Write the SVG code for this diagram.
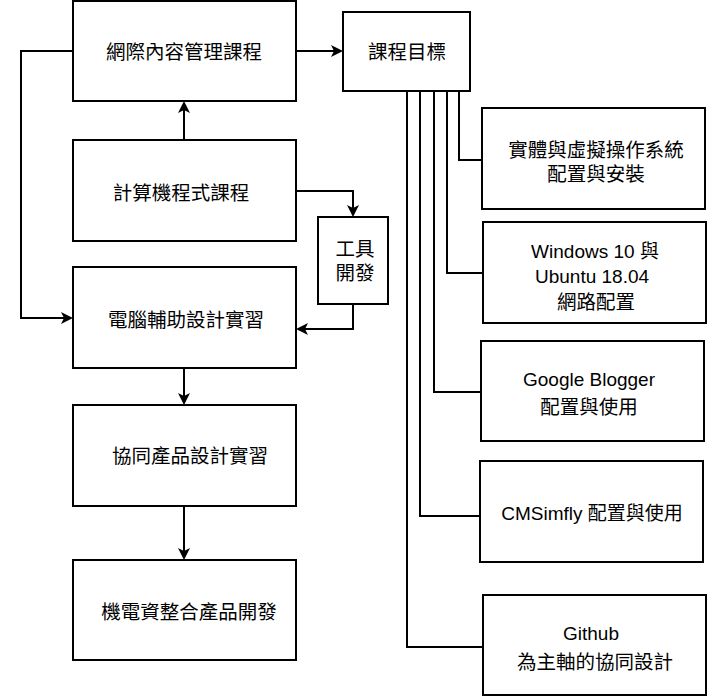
<svg xmlns="http://www.w3.org/2000/svg" width="724" height="698" viewBox="0 0 724 698">
<style>
.box{fill:#fff;stroke:#000;stroke-width:2}
.ln{fill:none;stroke:#000;stroke-width:2}
.t{font-family:"Liberation Sans","Noto Sans CJK TC",sans-serif;font-size:19px;fill:#000;text-anchor:middle;dominant-baseline:central}
.c{font-size:19.5px}
</style>
<defs>
<marker id="arr" viewBox="0 0 12 12" refX="3" refY="6" markerWidth="12" markerHeight="12" markerUnits="userSpaceOnUse" orient="auto">
<path d="M0,0 L12,6 L0,12 L3,6 z" fill="#000"/>
</marker>
</defs>
<rect width="724" height="698" fill="#fff"/>
<g id="connectors">
<path class="ln" d="M296,51 H334" marker-end="url(#arr)"/>
<path class="ln" d="M184,140 V110" marker-end="url(#arr)"/>
<path class="ln" d="M296,191 H353 V208" marker-end="url(#arr)"/>
<path class="ln" d="M353,304 V329 H305" marker-end="url(#arr)"/>
<path class="ln" d="M73,51 H21 V318 H64" marker-end="url(#arr)"/>
<path class="ln" d="M184,368 V396" marker-end="url(#arr)"/>
<path class="ln" d="M184,506 V551" marker-end="url(#arr)"/>
<path class="ln" d="M459,91 V160 H482"/>
<path class="ln" d="M447,91 V273 H483"/>
<path class="ln" d="M434,91 V392 H481"/>
<path class="ln" d="M420,91 V516 H480"/>
<path class="ln" d="M407,91 V647 H483"/>
</g>
<g id="n_web">
<rect class="box" x="73" y="1" width="223" height="100"/>
<text class="t c" x="184" y="52">網際內容管理課程</text>
</g>
<g id="n_goal">
<rect class="box" x="343" y="12" width="127" height="79"/>
<text class="t c" x="407" y="52">課程目標</text>
</g>
<g id="n_prog">
<rect class="box" x="73" y="140" width="223" height="101"/>
<text class="t c" x="181" y="193">計算機程式課程</text>
</g>
<g id="n_tool">
<rect class="box" x="318" y="217" width="70" height="87"/>
<text class="t c" x="355" y="249">工具</text>
<text class="t c" x="355" y="273">開發</text>
</g>
<g id="n_cad">
<rect class="box" x="73" y="267" width="223" height="101"/>
<text class="t c" x="186" y="320">電腦輔助設計實習</text>
</g>
<g id="n_collab">
<rect class="box" x="73" y="405" width="223" height="101"/>
<text class="t c" x="190" y="456">協同產品設計實習</text>
</g>
<g id="n_mech">
<rect class="box" x="73" y="560" width="223" height="100"/>
<text class="t c" x="189" y="612">機電資整合產品開發</text>
</g>
<g id="n_os">
<rect class="box" x="482" y="108" width="223" height="101"/>
<text class="t c" x="596" y="150">實體與虛擬操作系統</text>
<text class="t c" x="596" y="174">配置與安裝</text>
</g>
<g id="n_net">
<rect class="box" x="483" y="222" width="223" height="101"/>
<text class="t" x="595" y="251">Windows 10 與</text>
<text class="t" x="592" y="276">Ubuntu 18.04</text>
<text class="t c" x="596" y="302">網路配置</text>
</g>
<g id="n_blog">
<rect class="box" x="481" y="341" width="223" height="100"/>
<text class="t" x="589" y="379">Google Blogger</text>
<text class="t c" x="589" y="407">配置與使用</text>
</g>
<g id="n_cms">
<rect class="box" x="480" y="461" width="223" height="101"/>
<text class="t" x="592" y="513">CMSimfly 配置與使用</text>
</g>
<g id="n_git">
<rect class="box" x="483" y="595" width="223" height="100"/>
<text class="t" x="591" y="633">Github</text>
<text class="t c" x="595" y="662">為主軸的協同設計</text>
</g>
</svg>
